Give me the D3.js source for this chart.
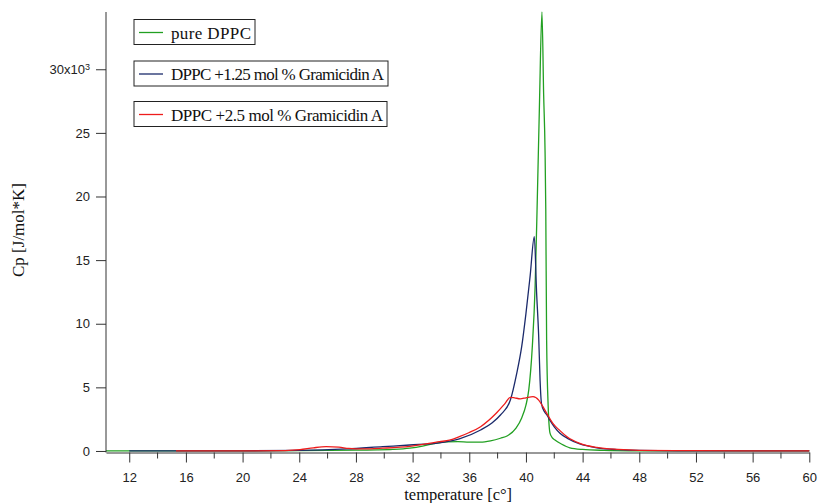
<!DOCTYPE html>
<html>
<head>
<meta charset="utf-8">
<script src="https://cdn.jsdelivr.net/npm/d3@7"></script>
<style>
  body { margin: 0; background: #fff; }
  svg { display: block; }
</style>
</head>
<body>
<div id="chart"></div>
<script>
// Data, temperature in °C, Cp in 10^3 J/mol*K
const tempPure = [10.36, 15, 20, 24, 26, 28, 29.5, 30.6, 31.8, 32.7, 33.5, 34.4, 35.2, 36.0, 36.8, 37.5, 38.2, 38.7, 39.3, 39.7, 40.0, 40.2, 40.45, 40.65, 40.8, 40.95, 41.13, 41.25, 41.35, 41.4, 41.46, 41.57, 41.7, 41.85, 42.05, 42.5, 43.1, 44, 45.5, 48, 52, 56, 60]
const cpPure   = [0, 0, 0, 0.02, 0.04, 0.06, 0.08, 0.12, 0.22, 0.38, 0.58, 0.72, 0.74, 0.7, 0.7, 0.8, 1.0, 1.2, 1.8, 2.6, 3.6, 4.8, 8.2, 13, 19.7, 27, 34.5, 28, 23.5, 19, 8.7, 3.5, 1.4, 1.05, 0.86, 0.55, 0.25, 0.12, 0.05, 0.01, 0, 0, 0]

const tempGA125 = [12, 20, 24, 27.35, 29.9, 31.8, 33.9, 35.3, 36.8, 37.6, 38.2, 38.9, 39.35, 39.7, 40.0, 40.3, 40.59, 40.75, 40.9, 41.0, 41.1, 41.3, 41.5, 41.7, 42.0, 42.4, 43.0, 43.8, 45, 46.5, 48, 52, 60]
const cpGA125   = [0, 0.01, 0.04, 0.16, 0.34, 0.47, 0.64, 0.95, 1.65, 2.2, 2.83, 4.0, 6.1, 8.2, 10.8, 13.8, 16.85, 12.5, 9, 5.5, 3.7, 3.1, 2.8, 2.4, 1.9, 1.4, 0.95, 0.55, 0.25, 0.1, 0.04, 0.01, 0]

const tempGA25 = [15.3, 20, 23, 24.05, 25, 25.9, 26.8, 27.5, 28.5, 29.9, 31.8, 33.9, 34.6, 35.3, 36.0, 36.8, 37.9, 38.5, 38.9, 39.2, 39.6, 40.0, 40.5, 40.9, 41.2, 41.5, 41.9, 42.4, 42.9, 43.8, 45, 46.5, 48, 52, 60]
const cpGA25   = [0, 0, 0.03, 0.1, 0.25, 0.34, 0.3, 0.2, 0.16, 0.22, 0.36, 0.73, 0.85, 1.12, 1.45, 1.91, 2.96, 3.7, 4.22, 4.18, 4.1, 4.18, 4.27, 4.0, 3.48, 2.9, 2.17, 1.6, 1.12, 0.6, 0.28, 0.12, 0.05, 0.02, 0]

const seriesNames = ['pure DPPC', 'DPPC +1.25 mol % Gramicidin A', 'DPPC +2.5 mol % Gramicidin A']
const seriesColors = ['#22a022', '#1b2a6b', '#ee1c1c']

const xMajorTicks = [12, 16, 20, 24, 28, 32, 36, 40, 44, 48, 52, 56, 60]
const xMinorTicks = [14, 18, 22, 26, 30, 34, 38, 42, 46, 50, 54, 58]
const yTicks = [0, 5, 10, 15, 20, 25, 30]

const series = [
  { name: seriesNames[0], color: seriesColors[0], values: tempPure.map((t, i) => ({ t, cp: cpPure[i] })) },
  { name: seriesNames[1], color: seriesColors[1], values: tempGA125.map((t, i) => ({ t, cp: cpGA125[i] })) },
  { name: seriesNames[2], color: seriesColors[2], values: tempGA25.map((t, i) => ({ t, cp: cpGA25[i] })) },
]

const width = 818, height = 503
const plot = { left: 106, right: 809.3, top: 12, bottom: 452.5 }

const svg = d3.select('#chart').append('svg')
  .attr('width', width)
  .attr('height', height)

const x = d3.scaleLinear().domain([10.36, 60]).range([plot.left, plot.right])
const y = d3.scaleLinear().domain([-0.12, 34.5]).range([plot.bottom, plot.top])

// curves
const line = d3.line()
  .x(d => x(d.t))
  .y(d => y(d.cp))
  .curve(d3.curveMonotoneX)

svg.append('g')
  .selectAll('path')
  .data(series)
  .join('path')
  .attr('fill', 'none')
  .attr('stroke', d => d.color)
  .attr('stroke-width', 1.3)
  .attr('d', d => line(d.values))

// axes
const xAxis = d3.axisBottom(x)
  .tickValues(xMajorTicks)
  .tickSize(10)
  .tickSizeOuter(0)
  .tickPadding(10)
const xAxisG = svg.append('g')
  .attr('transform', `translate(0,${plot.bottom})`)
  .call(xAxis)
xAxisG.selectAll('.minor')
  .data(xMinorTicks)
  .join('line')
  .attr('class', 'minor')
  .attr('x1', d => x(d)).attr('x2', d => x(d))
  .attr('y1', 0).attr('y2', 6)
  .attr('stroke', '#333')

const yAxis = d3.axisLeft(y)
  .tickValues(yTicks)
  .tickSize(10)
  .tickSizeOuter(0)
  .tickPadding(6)
const yAxisG = svg.append('g')
  .attr('transform', `translate(${plot.left},0)`)
  .call(yAxis)
yAxisG.select('.domain').attr('d', `M0,${plot.top}V${plot.bottom}`)
yAxisG.selectAll('.tick text')
  .filter(d => d === 30)
  .text('30x10')
  .append('tspan')
  .attr('dy', '-0.45em')
  .attr('font-size', '9px')
  .text('3')

svg.selectAll('.domain, .tick line').attr('stroke', '#333')
svg.selectAll('.tick text')
  .attr('fill', '#222')
  .attr('font-family', '"Liberation Sans", Arial, sans-serif')
  .attr('font-size', '13px')

// axis titles
svg.append('text')
  .attr('x', (plot.left + plot.right) / 2 + 0.5)
  .attr('y', 500)
  .attr('text-anchor', 'middle')
  .attr('font-family', '"Liberation Serif", "Times New Roman", serif')
  .attr('font-size', '16.5px')
  .attr('fill', '#111')
  .text('temperature [c°]')

svg.append('text')
  .attr('transform', 'translate(24,230) rotate(-90)')
  .attr('text-anchor', 'middle')
  .attr('font-family', '"Liberation Serif", "Times New Roman", serif')
  .attr('font-size', '17px')
  .attr('fill', '#111')
  .text('Cp [J/mol*K]')

// legend: one box per series
const legendTops = [19.5, 61, 101.5]
const legendTextWidths = [80, 213, 212]
series.forEach((s, i) => {
  const g = svg.append('g').attr('transform', `translate(134,${legendTops[i]})`)
  g.append('rect')
    .attr('fill', '#fff')
    .attr('stroke', '#222')
    .attr('stroke-width', 1)
    .attr('height', 25)
    .attr('width', 37 + legendTextWidths[i] + 4)
  g.append('line')
    .attr('x1', 5).attr('x2', 29)
    .attr('y1', 13).attr('y2', 13)
    .attr('stroke', s.color)
    .attr('stroke-width', 1.3)
  g.append('text')
    .attr('x', 37)
    .attr('y', 19)
    .attr('font-family', '"Liberation Serif", "Times New Roman", serif')
    .attr('font-size', '17px')
    .attr('fill', '#111')
    .attr('textLength', legendTextWidths[i])
    .attr('lengthAdjust', 'spacing')
    .text(s.name)
})
</script>
</body>
</html>
